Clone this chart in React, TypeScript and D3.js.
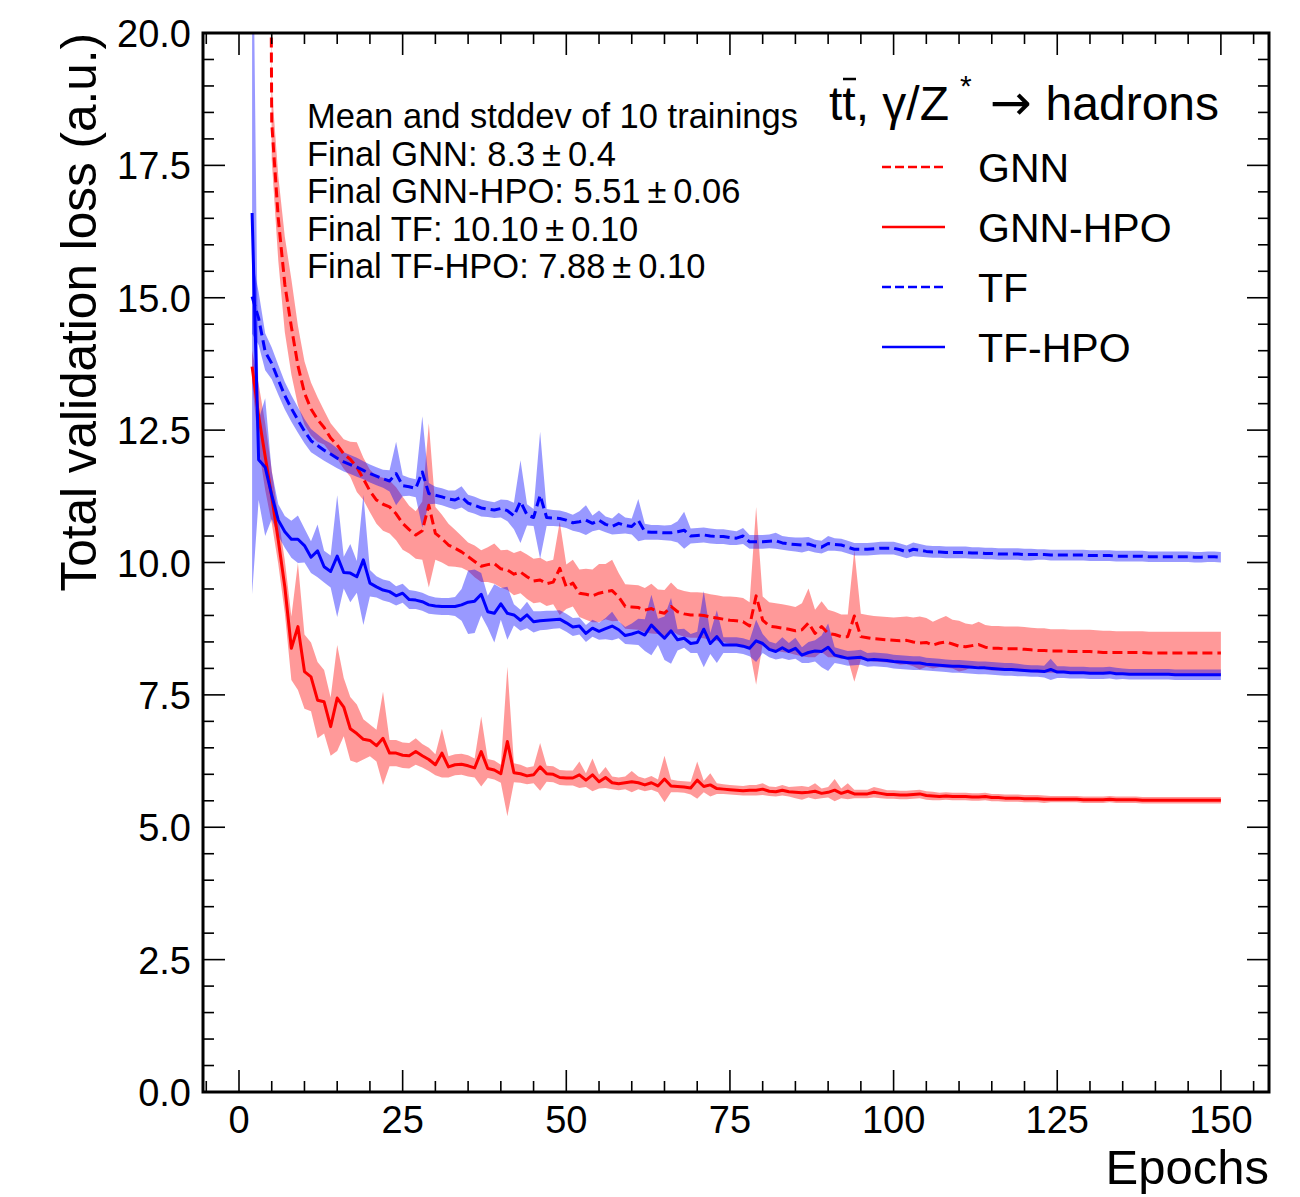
import React from 'react';
import * as d3 from 'd3';

const width = 1300;
const height = 1197;
const plot = { left: 203, right: 1269, top: 33, bottom: 1092 };
const font = '"Liberation Sans", Arial, Helvetica, sans-serif';

// epochs 2..150
const epochs = d3.range(2, 151);

const xTicks = [0, 25, 50, 75, 100, 125, 150];
const yTicks = [0, 2.5, 5, 7.5, 10, 12.5, 15, 17.5, 20];

// GNN (dashed red), mean and stddev per epoch
const gnnMean = [
	110, 70, 43, 18.3, 16.5, 15.25, 14.45, 13.72, 13.2, 12.9,
	12.7, 12.55, 12.35, 12.22, 12.05, 11.95, 11.8, 11.58, 11.35, 11.18,
	11.1, 11.05, 10.92, 10.74, 10.62, 10.52, 10.6, 11.08, 10.55, 10.45,
	10.33, 10.27, 10.2, 10.11, 10.02, 9.93, 9.96, 9.98, 9.88, 9.86,
	9.78, 9.82, 9.73, 9.65, 9.67, 9.6, 9.63, 9.89, 9.54, 9.61,
	9.42, 9.4, 9.37, 9.42, 9.45, 9.47, 9.35, 9.17, 9.16, 9.15,
	9.1, 9.13, 9.07, 9.04, 9.17, 9.07, 9.03, 9.01, 9.01, 9.0,
	8.97, 8.95, 8.93, 8.91, 8.9, 8.88, 8.8, 9.37, 8.91, 8.8,
	8.78, 8.76, 8.74, 8.71, 8.73, 8.86, 8.66, 8.79, 8.66, 8.64,
	8.6, 8.6, 8.99, 8.6, 8.58, 8.56, 8.55, 8.54, 8.53, 8.52,
	8.53, 8.5, 8.48, 8.49, 8.44, 8.48, 8.5, 8.46, 8.42, 8.41,
	8.43, 8.45, 8.4, 8.38, 8.38, 8.37, 8.37, 8.37, 8.36, 8.35,
	8.34, 8.34, 8.33, 8.33, 8.33, 8.32, 8.32, 8.32, 8.32, 8.31,
	8.3, 8.3, 8.3, 8.3, 8.3, 8.3, 8.3, 8.29, 8.29, 8.29,
	8.29, 8.29, 8.29, 8.29, 8.29, 8.29, 8.29, 8.29, 8.29
];
const gnnStd = [
	2, 1.5, 1, 0.7, 0.8, 0.9, 0.9, 0.75, 0.6, 0.5,
	0.42, 0.32, 0.28, 0.26, 0.28, 0.33, 0.47, 0.4, 0.4, 0.45,
	0.5, 0.5, 0.5, 0.5, 0.45, 0.45, 0.55, 1.55, 0.5, 0.45,
	0.4, 0.35, 0.3, 0.27, 0.3, 0.3, 0.33, 0.38, 0.35, 0.38,
	0.4, 0.4, 0.42, 0.42, 0.42, 0.42, 0.42, 0.88, 0.42, 0.44,
	0.45, 0.48, 0.5, 0.55, 0.52, 0.58, 0.45, 0.42, 0.42, 0.42,
	0.42, 0.47, 0.42, 0.44, 0.45, 0.43, 0.43, 0.43, 0.43, 0.43,
	0.43, 0.43, 0.43, 0.45, 0.45, 0.45, 0.45, 1.68, 0.45, 0.45,
	0.45, 0.45, 0.45, 0.45, 0.5, 0.65, 0.45, 0.48, 0.45, 0.43,
	0.42, 0.42, 1.24, 0.43, 0.43, 0.43, 0.43, 0.43, 0.43, 0.45,
	0.45, 0.46, 0.5, 0.46, 0.44, 0.46, 0.49, 0.46, 0.48, 0.44,
	0.4, 0.43, 0.42, 0.42, 0.42, 0.42, 0.42, 0.42, 0.42, 0.42,
	0.42, 0.42, 0.41, 0.41, 0.41, 0.41, 0.41, 0.41, 0.41, 0.41,
	0.41, 0.41, 0.4, 0.4, 0.4, 0.4, 0.4, 0.4, 0.4, 0.4,
	0.4, 0.4, 0.4, 0.4, 0.4, 0.4, 0.4, 0.4, 0.4
];

// GNN-HPO (solid red)
const gnnHpoMean = [
	13.7, 12.77, 12.0, 11.24, 10.42, 9.54, 8.38, 8.79, 7.94, 7.84,
	7.4, 7.37, 6.9, 7.44, 7.27, 6.86, 6.77, 6.66, 6.64, 6.54,
	6.68, 6.4, 6.4, 6.36, 6.35, 6.43, 6.35, 6.28, 6.18, 6.4,
	6.14, 6.18, 6.19, 6.16, 6.12, 6.43, 6.11, 6.08, 6.01, 6.62,
	6.03, 6.01, 5.97, 5.99, 6.14, 6.01, 6.0, 5.94, 5.93, 5.93,
	5.99, 5.89, 5.99, 5.86, 5.94, 5.84, 5.82, 5.84, 5.86, 5.84,
	5.8, 5.84, 5.78, 5.91, 5.78, 5.77, 5.76, 5.74, 5.89, 5.77,
	5.8, 5.73, 5.72, 5.71, 5.7, 5.69, 5.7, 5.7, 5.72, 5.68,
	5.67, 5.7, 5.67, 5.66, 5.65, 5.66, 5.68, 5.64, 5.66, 5.7,
	5.64, 5.68, 5.63, 5.63, 5.63, 5.66, 5.64, 5.62, 5.62, 5.61,
	5.61, 5.62, 5.63, 5.6, 5.59, 5.58, 5.59, 5.58, 5.58, 5.58,
	5.57, 5.57, 5.58, 5.56, 5.56, 5.55, 5.55, 5.55, 5.54, 5.54,
	5.54, 5.53, 5.53, 5.53, 5.53, 5.53, 5.53, 5.52, 5.52, 5.52,
	5.52, 5.53, 5.52, 5.52, 5.52, 5.52, 5.51, 5.51, 5.51, 5.51,
	5.51, 5.51, 5.51, 5.51, 5.51, 5.51, 5.51, 5.51, 5.51
];
const gnnHpoStd = [
	0.3, 0.6, 0.63, 0.5, 0.45, 0.5, 0.6, 1.2, 0.7, 0.65,
	0.72, 0.6, 0.55, 1.0, 0.55, 0.6, 0.55, 0.38, 0.3, 0.3,
	0.88, 0.25, 0.25, 0.24, 0.24, 0.25, 0.22, 0.22, 0.2, 0.46,
	0.2, 0.2, 0.2, 0.2, 0.18, 0.66, 0.18, 0.18, 0.17, 1.41,
	0.18, 0.17, 0.16, 0.16, 0.45, 0.15, 0.15, 0.14, 0.14, 0.14,
	0.25, 0.13, 0.31, 0.13, 0.2, 0.12, 0.12, 0.12, 0.2, 0.12,
	0.12, 0.13, 0.12, 0.44, 0.12, 0.11, 0.11, 0.12, 0.35, 0.11,
	0.22, 0.1, 0.09, 0.09, 0.09, 0.09, 0.1, 0.1, 0.11, 0.09,
	0.09, 0.1, 0.09, 0.11, 0.13, 0.1, 0.15, 0.09, 0.1, 0.21,
	0.09, 0.15, 0.08, 0.08, 0.08, 0.1, 0.09, 0.08, 0.08, 0.08,
	0.08, 0.08, 0.08, 0.08, 0.08, 0.07, 0.07, 0.07, 0.07, 0.07,
	0.07, 0.07, 0.07, 0.07, 0.07, 0.07, 0.07, 0.07, 0.07, 0.07,
	0.07, 0.07, 0.06, 0.06, 0.06, 0.06, 0.06, 0.06, 0.06, 0.06,
	0.06, 0.06, 0.06, 0.06, 0.06, 0.06, 0.06, 0.06, 0.06, 0.06,
	0.06, 0.06, 0.06, 0.06, 0.06, 0.06, 0.06, 0.06, 0.06
];

// TF (dashed blue)
const tfMean = [
	15.02, 14.61, 13.98, 13.76, 13.45, 13.15, 12.91, 12.69, 12.48, 12.3,
	12.21, 12.12, 12.05, 11.97, 11.9, 11.85, 11.8, 11.74, 11.68, 11.63,
	11.58, 11.54, 11.68, 11.45, 11.43, 11.4, 11.71, 11.3, 11.27, 11.24,
	11.2, 11.18, 11.24, 11.12, 11.08, 11.03, 11.01, 10.99, 11.02, 10.98,
	10.88, 11.15, 10.9, 10.85, 11.27, 10.85, 10.84, 10.83, 10.8, 10.75,
	10.77, 10.8, 10.74, 10.8, 10.72, 10.68, 10.74, 10.7, 10.68, 10.8,
	10.58, 10.57, 10.57, 10.56, 10.56, 10.58, 10.61, 10.5, 10.51, 10.52,
	10.5, 10.49, 10.49, 10.47, 10.46, 10.5, 10.39, 10.39, 10.39, 10.4,
	10.41, 10.37, 10.35, 10.34, 10.33, 10.35, 10.31, 10.29, 10.36, 10.34,
	10.33, 10.29, 10.25, 10.25, 10.25, 10.26, 10.27, 10.27, 10.27, 10.24,
	10.2, 10.25, 10.23, 10.21, 10.2, 10.2, 10.19, 10.19, 10.19, 10.19,
	10.18, 10.18, 10.17, 10.17, 10.16, 10.16, 10.16, 10.16, 10.15, 10.15,
	10.15, 10.15, 10.14, 10.14, 10.14, 10.14, 10.14, 10.14, 10.13, 10.13,
	10.13, 10.13, 10.12, 10.12, 10.12, 10.12, 10.12, 10.11, 10.11, 10.11,
	10.11, 10.11, 10.11, 10.11, 10.1, 10.1, 10.11, 10.11, 10.1
];
const tfStd = [
	0.7, 0.5, 0.35, 0.3, 0.28, 0.26, 0.25, 0.24, 0.23, 0.22,
	0.21, 0.2, 0.2, 0.19, 0.18, 0.18, 0.18, 0.17, 0.17, 0.17,
	0.17, 0.2, 0.6, 0.2, 0.17, 0.17, 1.05, 0.2, 0.16, 0.16,
	0.16, 0.18, 0.2, 0.16, 0.16, 0.16, 0.15, 0.15, 0.17, 0.2,
	0.25, 0.78, 0.2, 0.16, 1.2, 0.16, 0.15, 0.15, 0.15, 0.15,
	0.2, 0.28, 0.15, 0.18, 0.15, 0.15, 0.2, 0.15, 0.15, 0.4,
	0.15, 0.14, 0.14, 0.14, 0.15, 0.2, 0.35, 0.14, 0.14, 0.14,
	0.14, 0.14, 0.14, 0.14, 0.13, 0.15, 0.13, 0.13, 0.13, 0.13,
	0.15, 0.13, 0.13, 0.13, 0.14, 0.13, 0.12, 0.12, 0.14, 0.12,
	0.12, 0.12, 0.12, 0.12, 0.12, 0.12, 0.12, 0.12, 0.12, 0.12,
	0.12, 0.13, 0.12, 0.11, 0.11, 0.11, 0.11, 0.11, 0.11, 0.11,
	0.11, 0.11, 0.11, 0.11, 0.11, 0.11, 0.11, 0.11, 0.11, 0.11,
	0.1, 0.1, 0.1, 0.1, 0.1, 0.1, 0.1, 0.1, 0.1, 0.1,
	0.1, 0.1, 0.1, 0.1, 0.1, 0.1, 0.1, 0.1, 0.1, 0.1,
	0.1, 0.1, 0.1, 0.1, 0.1, 0.1, 0.1, 0.1, 0.1
];

// TF-HPO (solid blue)
const tfHpoMean = [
	16.6, 11.94, 11.8, 11.27, 10.8, 10.58, 10.44, 10.44, 10.32, 10.1,
	10.22, 9.92, 9.83, 10.12, 9.81, 9.8, 9.73, 10.05, 9.61, 9.54,
	9.48, 9.45, 9.37, 9.42, 9.3, 9.29, 9.26, 9.2, 9.18, 9.17,
	9.17, 9.17, 9.2, 9.25, 9.27, 9.4, 9.07, 9.04, 9.22, 9.04,
	9.01, 8.91, 9.01, 8.88, 8.9, 8.91, 8.92, 8.93, 8.86, 8.78,
	8.8, 8.66, 8.76, 8.7, 8.75, 8.8, 8.73, 8.62, 8.65, 8.69,
	8.63, 8.82, 8.69, 8.57, 8.71, 8.54, 8.57, 8.47, 8.49, 8.74,
	8.47, 8.6, 8.44, 8.44, 8.44, 8.42, 8.38, 8.52, 8.47, 8.36,
	8.32, 8.39, 8.32, 8.38, 8.25, 8.3, 8.33, 8.32, 8.4, 8.25,
	8.22, 8.19, 8.2, 8.21, 8.16, 8.17, 8.16, 8.15, 8.13, 8.12,
	8.11, 8.1, 8.1, 8.08, 8.07, 8.06, 8.05, 8.04, 8.04, 8.03,
	8.02, 8.01, 8.01, 8.0, 7.99, 7.98, 7.98, 7.97, 7.96, 7.95,
	7.95, 7.94, 7.98, 7.93, 7.93, 7.92, 7.92, 7.92, 7.91, 7.91,
	7.91, 7.92, 7.9, 7.9, 7.89, 7.89, 7.89, 7.89, 7.89, 7.89,
	7.89, 7.88, 7.88, 7.88, 7.88, 7.88, 7.88, 7.88, 7.88
];
const tfHpoStd = [
	7.2, 0.76, 1.3, 0.45, 0.3, 0.3, 0.35, 0.45, 0.32, 0.3,
	0.5, 0.3, 0.3, 1.15, 0.3, 0.55, 0.3, 1.23, 0.25, 0.2,
	0.2, 0.2, 0.18, 0.18, 0.18, 0.17, 0.17, 0.17, 0.16, 0.16,
	0.16, 0.18, 0.3, 0.6, 0.6, 0.4, 0.3, 0.55, 0.3, 0.5,
	0.2, 0.2, 0.25, 0.2, 0.18, 0.18, 0.17, 0.17, 0.17, 0.17,
	0.16, 0.16, 0.16, 0.16, 0.2, 0.27, 0.16, 0.16, 0.2, 0.25,
	0.3, 0.57, 0.25, 0.41, 0.62, 0.2, 0.18, 0.18, 0.2, 0.72,
	0.2, 0.5, 0.15, 0.15, 0.15, 0.15, 0.15, 0.4, 0.18, 0.15,
	0.15, 0.2, 0.16, 0.2, 0.15, 0.2, 0.2, 0.3, 0.45, 0.15,
	0.14, 0.14, 0.14, 0.14, 0.13, 0.13, 0.13, 0.13, 0.13, 0.13,
	0.13, 0.13, 0.13, 0.12, 0.12, 0.12, 0.12, 0.12, 0.12, 0.12,
	0.12, 0.12, 0.12, 0.12, 0.12, 0.12, 0.12, 0.12, 0.11, 0.11,
	0.11, 0.11, 0.2, 0.11, 0.11, 0.11, 0.11, 0.11, 0.11, 0.11,
	0.11, 0.11, 0.11, 0.1, 0.1, 0.1, 0.1, 0.1, 0.1, 0.1,
	0.1, 0.1, 0.1, 0.1, 0.1, 0.1, 0.1, 0.1, 0.1
];

const series = [
	{ name: 'GNN', mean: gnnMean, std: gnnStd, color: '#ff0000', dash: '10,5' },
	{ name: 'GNN-HPO', mean: gnnHpoMean, std: gnnHpoStd, color: '#ff0000', dash: null },
	{ name: 'TF', mean: tfMean, std: tfStd, color: '#0000ff', dash: '10,5' },
	{ name: 'TF-HPO', mean: tfHpoMean, std: tfHpoStd, color: '#0000ff', dash: null }
];

const infoLines = [
	'Mean and stddev of 10 trainings',
	'Final GNN: 8.3\u2009\u00b1\u20090.4',
	'Final GNN-HPO: 5.51\u2009\u00b1\u20090.06',
	'Final TF: 10.10\u2009\u00b1\u20090.10',
	'Final TF-HPO: 7.88\u2009\u00b1\u20090.10'
];

const x = d3.scaleLinear().domain([-5.5, 157.35]).range([plot.left, plot.right]);
const y = d3.scaleLinear().domain([0, 20]).range([plot.bottom, plot.top]);

const xMinor = d3.range(-5, 156, 5).filter(v => v % 25 !== 0);
const yMinor = d3.range(0, 20.01, 0.5).filter(v => Math.abs(v / 2.5 - Math.round(v / 2.5)) > 1e-6);

export default function App() {
	const bands = series.map(s => {
		const a = d3
			.area<number>()
			.x((d, i) => x(epochs[i]))
			.y0((d, i) => y(s.mean[i] - s.std[i]))
			.y1((d, i) => y(s.mean[i] + s.std[i]));
		return a(epochs);
	});
	const lines = series.map(s => {
		const l = d3
			.line<number>()
			.x((d, i) => x(epochs[i]))
			.y((d, i) => y(s.mean[i]));
		return l(epochs);
	});

	const majorLen = 22;
	const minorLen = 11;

	return (
		<svg
			width={width}
			height={height}
			style={{ position: 'absolute', left: 0, top: 0, background: '#fff' }}
			fontFamily={font}
		>
			<defs>
				<clipPath id="plotClip">
					<rect x={plot.left} y={plot.top} width={plot.right - plot.left} height={plot.bottom - plot.top} />
				</clipPath>
			</defs>
			<rect x={0} y={0} width={width} height={height} fill="#fff" />

			<g clipPath="url(#plotClip)">
				{series.map((s, i) => (
					<path key={'b' + s.name} d={bands[i] || ''} fill={s.color} fillOpacity={0.4} stroke="none" />
				))}
				{series.map((s, i) => (
					<path
						key={'l' + s.name}
						d={lines[i] || ''}
						fill="none"
						stroke={s.color}
						strokeWidth={3}
						strokeDasharray={s.dash || undefined}
						strokeLinejoin="round"
					/>
				))}
			</g>

			{/* ticks, all four sides, pointing inward */}
			<g stroke="#000" strokeWidth={1.6}>
				{xTicks.map(t => (
					<g key={'xt' + t}>
						<line x1={x(t)} x2={x(t)} y1={plot.bottom} y2={plot.bottom - majorLen} />
						<line x1={x(t)} x2={x(t)} y1={plot.top} y2={plot.top + majorLen} />
					</g>
				))}
				{xMinor.map(t => (
					<g key={'xm' + t}>
						<line x1={x(t)} x2={x(t)} y1={plot.bottom} y2={plot.bottom - minorLen} />
						<line x1={x(t)} x2={x(t)} y1={plot.top} y2={plot.top + minorLen} />
					</g>
				))}
				{yTicks.map(t => (
					<g key={'yt' + t}>
						<line x1={plot.left} x2={plot.left + majorLen} y1={y(t)} y2={y(t)} />
						<line x1={plot.right} x2={plot.right - majorLen} y1={y(t)} y2={y(t)} />
					</g>
				))}
				{yMinor.map(t => (
					<g key={'ym' + t}>
						<line x1={plot.left} x2={plot.left + minorLen} y1={y(t)} y2={y(t)} />
						<line x1={plot.right} x2={plot.right - minorLen} y1={y(t)} y2={y(t)} />
					</g>
				))}
			</g>

			<rect
				x={plot.left}
				y={plot.top}
				width={plot.right - plot.left}
				height={plot.bottom - plot.top}
				fill="none"
				stroke="#000"
				strokeWidth={3}
			/>

			{/* tick labels */}
			<g fontSize={38} fill="#000">
				{xTicks.map(t => (
					<text key={'xl' + t} x={x(t)} y={plot.bottom + 41} textAnchor="middle">
						{t}
					</text>
				))}
				{yTicks.map(t => (
					<text key={'yl' + t} x={plot.left - 12} y={y(t) + 14} textAnchor="end">
						{t.toFixed(1)}
					</text>
				))}
			</g>

			{/* axis labels */}
			<text x={plot.right} y={1184} textAnchor="end" fontSize={49}>
				Epochs
			</text>
			<text transform={`translate(96, ${plot.top}) rotate(-90)`} textAnchor="end" fontSize={49.5}>
				Total validation loss (a.u.)
			</text>

			{/* info box */}
			<g fontSize={34.5}>
				{infoLines.map((t, i) => (
					<text key={'info' + i} x={307} y={128 + i * 37.5} fill="#000">
						{t}
					</text>
				))}
			</g>

			{/* legend */}
			<g>
				<text x={829} y={120} fontSize={48}>
					<tspan>tt</tspan>
					<tspan>, γ/Z</tspan>
					<tspan fontSize={30} dx={11} dy={-24}>*</tspan>
					<tspan dx={18} dy={24} fontFamily='"DejaVu Sans", sans-serif' fontSize={50}>→</tspan>
					<tspan dx={14}>hadrons</tspan>
				</text>
				<line x1={843} x2={856} y1={79} y2={79} stroke="#000" strokeWidth={2.5} />
				{series.map((s, i) => (
					<g key={'lg' + s.name}>
						<line
							x1={882}
							x2={945}
							y1={167 + i * 60}
							y2={167 + i * 60}
							stroke={s.color}
							strokeWidth={2.6}
							strokeDasharray={s.dash ? '9,4' : undefined}
						/>
						<text x={978} y={182 + i * 60} fontSize={41}>
							{s.name}
						</text>
					</g>
				))}
			</g>
		</svg>
	);
}
